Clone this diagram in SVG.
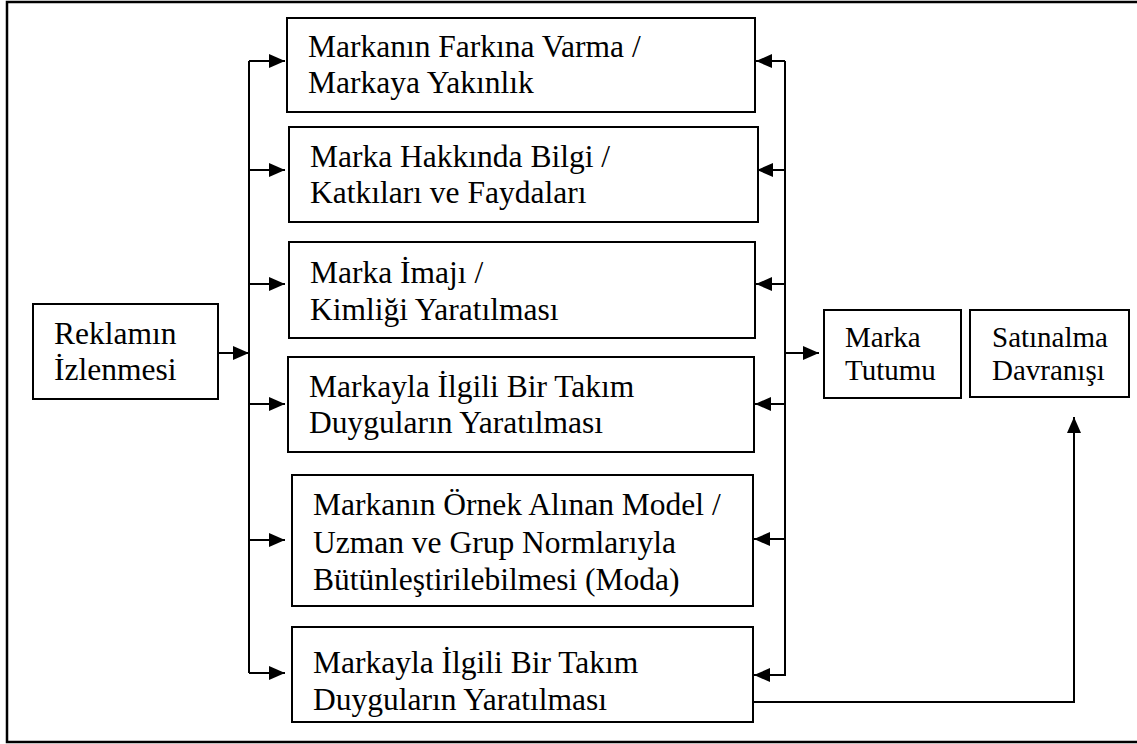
<svg xmlns="http://www.w3.org/2000/svg" width="1137" height="744" viewBox="0 0 1137 744">
<style>
.box{fill:#fff;stroke:#000;stroke-width:2}
.c{fill:none;stroke:#000;stroke-width:2}
text{fill:#000;font-family:'Liberation Serif','Times New Roman','DejaVu Serif',serif}
</style>
<defs>
<marker id="ah" markerUnits="userSpaceOnUse" markerWidth="16" markerHeight="14" refX="16" refY="7" orient="auto">
<path d="M0,0 L16,7 L0,14 z" fill="#000"/>
</marker>
</defs>
<rect width="1137" height="744" fill="#fff"/>
<rect x="7" y="2" width="1140" height="740" fill="none" stroke="#000" stroke-width="2.5"/>
<g id="connectors">
<line class="c" x1="249" y1="61" x2="249" y2="673"/>
<line class="c" x1="785" y1="61" x2="785" y2="676"/>
<line class="c" x1="218" y1="353" x2="249" y2="353" marker-end="url(#ah)"/>
<line class="c" x1="249" y1="61" x2="285" y2="61" marker-end="url(#ah)"/>
<line class="c" x1="249" y1="170" x2="285" y2="170" marker-end="url(#ah)"/>
<line class="c" x1="249" y1="284" x2="285" y2="284" marker-end="url(#ah)"/>
<line class="c" x1="249" y1="404" x2="285" y2="404" marker-end="url(#ah)"/>
<line class="c" x1="249" y1="540" x2="285" y2="540" marker-end="url(#ah)"/>
<line class="c" x1="249" y1="673" x2="285" y2="673" marker-end="url(#ah)"/>
<line class="c" x1="785" y1="61" x2="756" y2="61" marker-end="url(#ah)"/>
<line class="c" x1="785" y1="170" x2="757" y2="170" marker-end="url(#ah)"/>
<line class="c" x1="785" y1="284" x2="756" y2="284" marker-end="url(#ah)"/>
<line class="c" x1="785" y1="404" x2="755" y2="404" marker-end="url(#ah)"/>
<line class="c" x1="785" y1="539" x2="754" y2="539" marker-end="url(#ah)"/>
<line class="c" x1="785" y1="675" x2="754" y2="675" marker-end="url(#ah)"/>
<line class="c" x1="785" y1="353" x2="819" y2="353" marker-end="url(#ah)"/>
<polyline class="c" points="753,702 1074,702 1074,417" marker-end="url(#ah)"/>
</g>
<g font-size="31.5">
<g id="reklam">
<rect class="box" x="33" y="304" width="185" height="95"/>
<text x="54" y="344">Reklamın</text>
<text x="54" y="380">İzlenmesi</text>
</g>
<g id="n1">
<rect class="box" x="287" y="18" width="468" height="94"/>
<text x="308" y="57">Markanın Farkına Varma /</text>
<text x="308" y="93">Markaya Yakınlık</text>
</g>
<g id="n2">
<rect class="box" x="289" y="127" width="469" height="95"/>
<text x="310" y="167">Marka Hakkında Bilgi /</text>
<text x="310" y="203">Katkıları ve Faydaları</text>
</g>
<g id="n3">
<rect class="box" x="289" y="242" width="466" height="96"/>
<text x="310" y="283">Marka İmajı /</text>
<text x="310" y="320">Kimliği Yaratılması</text>
</g>
<g id="n4">
<rect class="box" x="288" y="357" width="466" height="95"/>
<text x="309" y="397">Markayla İlgili Bir Takım</text>
<text x="309" y="433">Duyguların Yaratılması</text>
</g>
<g id="n5">
<rect class="box" x="292" y="475" width="461" height="131"/>
<text x="313" y="515">Markanın Örnek Alınan Model /</text>
<text x="313" y="553">Uzman ve Grup Normlarıyla</text>
<text x="313" y="590">Bütünleştirilebilmesi (Moda)</text>
</g>
<g id="n6">
<rect class="box" x="292" y="627" width="461" height="95"/>
<text x="313" y="673">Markayla İlgili Bir Takım</text>
<text x="313" y="710">Duyguların Yaratılması</text>
</g>
<g id="tutum" font-size="29">
<rect class="box" x="824" y="310" width="137" height="88"/>
<text x="845" y="347">Marka</text>
<text x="845" y="380">Tutumu</text>
</g>
<g id="satin" font-size="29">
<rect class="box" x="970" y="310" width="159" height="87"/>
<text x="992" y="347">Satınalma</text>
<text x="992" y="380">Davranışı</text>
</g>
</g>
</svg>
